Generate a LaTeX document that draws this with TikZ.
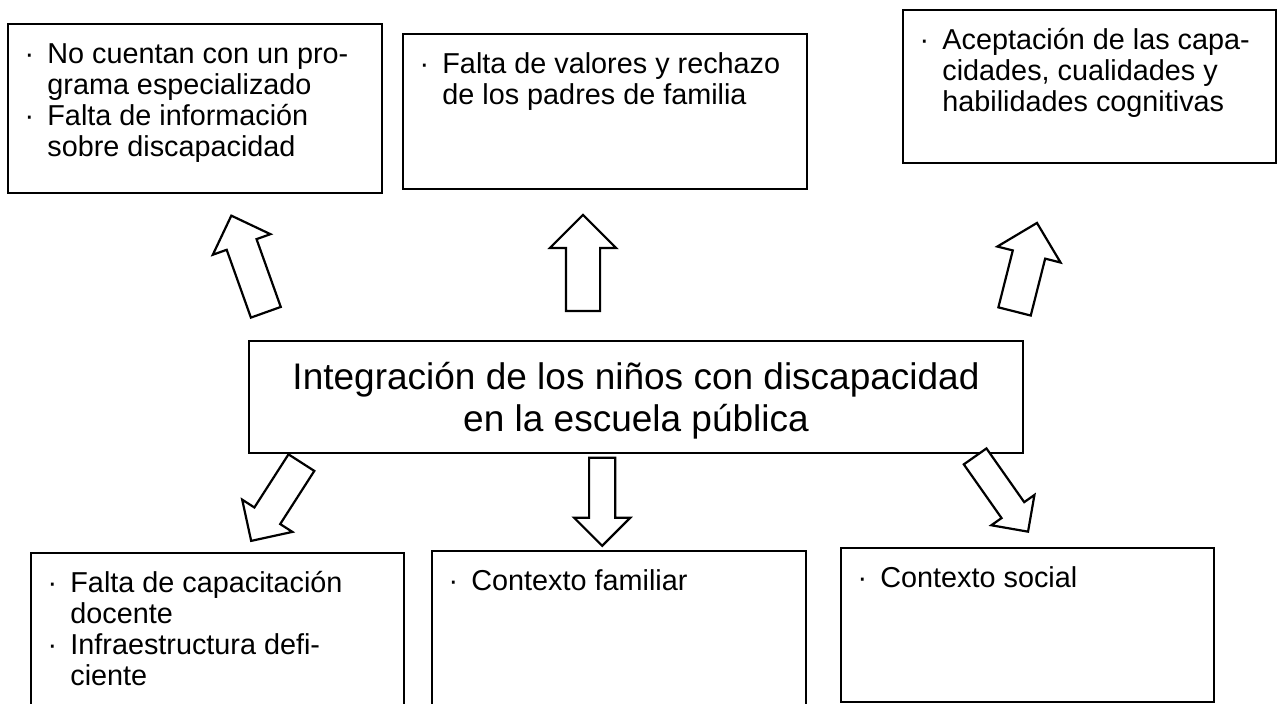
\documentclass[tikz,border=0pt]{standalone}
\usepackage{fontspec}
\setmainfont{Liberation Sans}
\usetikzlibrary{shapes.arrows}

\newcommand{\itm}{\strut\llap{·\hspace{13.2pt}}}

\begin{document}
\begin{tikzpicture}[x=1pt,y=-1pt,
    caja/.style={draw, line width=1.6pt, inner sep=0pt},
    texto/.style={anchor=north west, align=left, inner sep=0pt, font=\fontsize{28.8}{31}\selectfont},
    flecha/.style={single arrow, draw, line width=2.2pt, fill=white, inner xsep=0pt, anchor=tail}]

\useasboundingbox (0,0) rectangle (1283,704);
\clip (0,0) rectangle (1283,704);

\node[caja, minimum width=774, minimum height=112] (centro) at (636,397) {};
\node[align=center, inner sep=0pt, font=\fontsize{37}{42}\selectfont] (centro-t) at ([shift={(0,4)}]centro.center)
    {Integración de los niños con discapacidad\\en la escuela pública};

\node[caja, minimum width=374, minimum height=169] (programa) at (195,108.5) {};
\node[caja, minimum width=404, minimum height=155] (valores) at (605,111.5) {};
\node[caja, minimum width=373, minimum height=153] (aceptacion) at (1089.5,86.5) {};
\node[caja, minimum width=373, minimum height=207] (capacitacion) at (217.5,656.5) {};
\node[caja, minimum width=374, minimum height=209] (familiar) at (619,655.5) {};
\node[caja, minimum width=373, minimum height=154] (social) at (1027.5,625) {};

\node[texto] (programa-t) at ([shift={(40,18.3)}]programa.north west)
    {\itm No cuentan con un pro-\\grama especializado\\\itm Falta de información\\sobre discapacidad};
\node[texto] (valores-t) at ([shift={(40,18.3)}]valores.north west)
    {\itm Falta de valores y rechazo\\de los padres de familia};
\node[texto] (aceptacion-t) at ([shift={(40,18.3)}]aceptacion.north west)
    {\itm Aceptación de las capa-\\cidades, cualidades y\\habilidades cognitivas};
\node[texto] (capacitacion-t) at ([shift={(40,18.3)}]capacitacion.north west)
    {\itm Falta de capacitación\\docente\\\itm Infraestructura defi-\\ciente};
\node[texto] (familiar-t) at ([shift={(40,18.3)}]familiar.north west) {\itm Contexto familiar};
\node[texto] (social-t) at ([shift={(40,18.3)}]social.north west) {\itm Contexto social};

\node[flecha, minimum height=102.6, inner ysep=14.75, single arrow head extend=14.75, rotate=109.65] (up-a) at (266.2,313.3) {};
\node[flecha, minimum height=96, inner ysep=16, single arrow head extend=16, rotate=90] (up-b) at (583,312) {};
\node[flecha, minimum height=91.3, inner ysep=15.6, single arrow head extend=15.9, rotate=75.8] (up-c) at (1014.3,312.5) {};
\node[flecha, minimum height=93, inner ysep=14.25, single arrow head extend=14.5, rotate=-122.7] (down-a) at (302,461.7) {};
\node[flecha, minimum height=88, inner ysep=12, single arrow head extend=15, rotate=-90] (down-b) at (602.2,456.7) {};
\node[flecha, minimum height=92, inner ysep=12.75, single arrow head extend=12.5, rotate=-54.9] (down-c) at (974.5,455.5) {};

\end{tikzpicture}
\end{document}
